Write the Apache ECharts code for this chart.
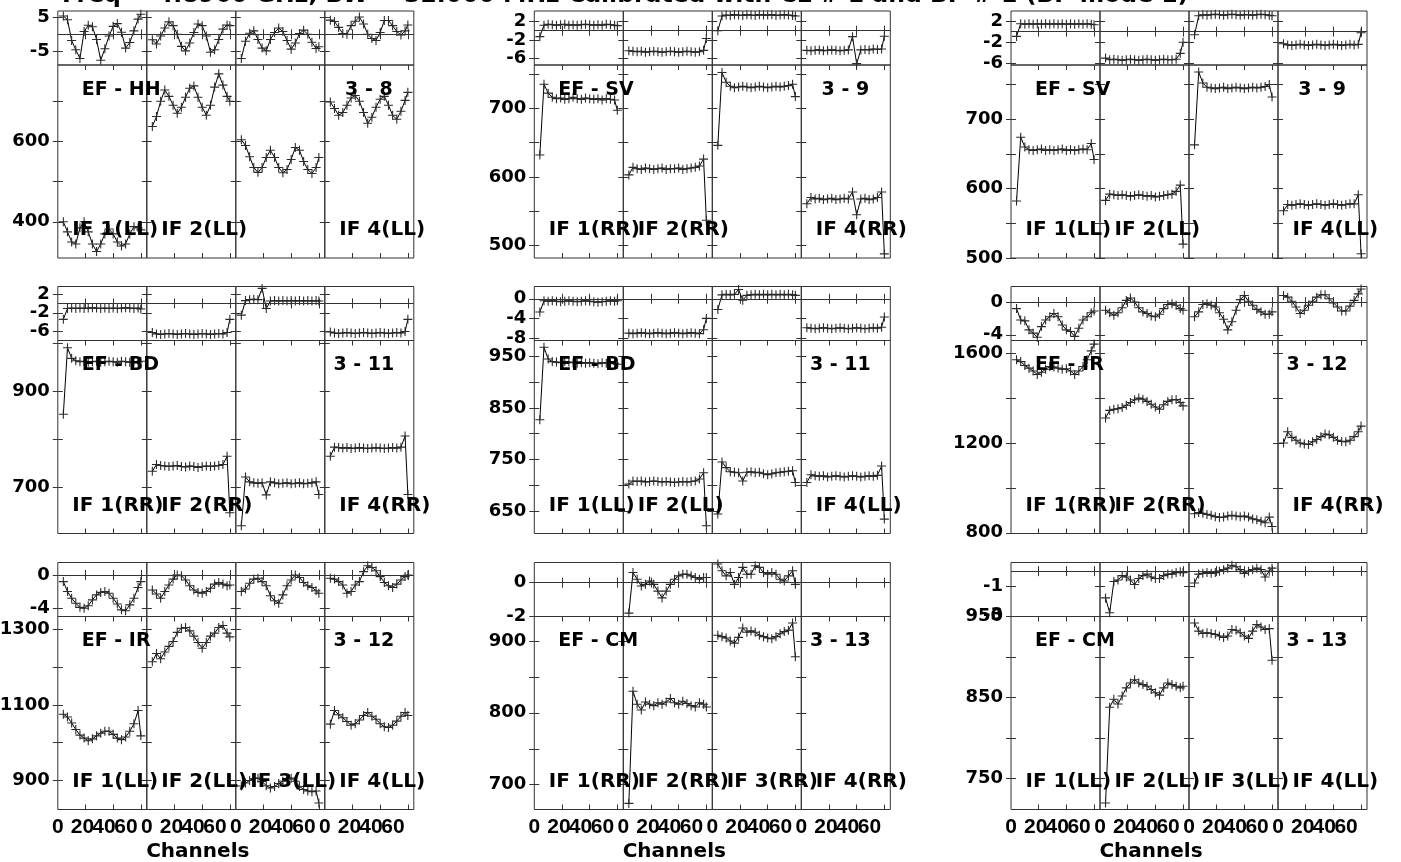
<!DOCTYPE html>
<html><head><meta charset="utf-8">
<script src="https://cdn.jsdelivr.net/npm/echarts@6/dist/echarts.min.js"></script>
<style>html,body{margin:0;padding:0;background:#fff}#c{width:1401px;height:862px}</style>
</head><body><div id="c"></div>
<script>
// ---------- data ----------
const channels = [4,7,10,13,16,19,22,25,28,31,34,37,40,43,46,49,52,55,58,60];

// Panel 1: EF - HH (LL)
const ph1_1 = [5.3,4.2,-1.8,-4.5,-7,0.8,2.6,2.2,-1.5,-7.5,-4.2,-0.5,2.3,3.1,0.6,-4,-2.4,1.0,4.4,5.8];
const amp1_1 = [400,375,350,345,385,400,375,345,326,345,370,382,370,350,340,345,370,388,385,380];
const ph1_2 = [-1.6,-2.8,-0.5,1.8,3.6,2.5,0,-3.5,-4.8,-2.5,0.5,3.0,2.5,-0.5,-5.2,-4.5,-1.5,1.5,2.7,2.5];
const amp1_2 = [637,662,700,728,712,690,670,685,710,732,738,710,685,665,690,735,768,740,712,700];
const ph1_3 = [-7,-2,0.3,1.0,-1.5,-4,-4.8,-1.5,0.5,1.8,0.8,-1.8,-4.3,-2.5,0.2,1.2,0,-2.3,-4.1,-3.6];
const amp1_3 = [604,590,562,535,523,535,560,578,560,535,522,530,555,585,578,550,530,520,535,560];
const ph1_4 = [4.1,3.7,2.0,0.2,0,2.5,3.8,5.0,3.0,0,-1.2,-1.8,0.5,4.0,4.0,2.5,0.8,-0.2,1.0,2.7];
const amp1_4 = [698,682,665,672,690,708,714,700,672,645,660,685,705,712,690,665,655,675,702,722];

// Panel 2: EF - SV (RR)
const ph2_1 = [-1.3,1.2,1.4,1.3,1.2,1.3,1.4,1.2,1.3,1.2,1.3,1.4,1.3,1.2,1.3,1.2,1.4,1.3,1.2,1.1];
const amp2_1 = [632,735,722,716,714,715,713,714,716,714,713,715,714,713,714,712,714,713,712,697];
const ph2_2 = [-4.4,-4.5,-4.6,-4.5,-4.7,-4.6,-4.5,-4.6,-4.7,-4.6,-4.5,-4.6,-4.7,-4.6,-4.5,-4.6,-4.7,-4.6,-4.3,-1.7];
const amp2_2 = [603,614,612,611,613,612,611,612,613,611,612,612,613,611,612,613,614,616,626,537];
const ph2_3 = [0,3.2,3.4,3.3,3.5,3.4,3.3,3.5,3.4,3.3,3.5,3.4,3.4,3.5,3.3,3.4,3.5,3.4,3.3,3.2];
const amp2_3 = [646,752,738,732,730,731,732,731,730,731,732,731,730,731,732,731,732,733,735,717];
const ph2_4 = [-4.3,-4.4,-4.3,-4.2,-4.4,-4.3,-4.2,-4.3,-4.4,-4.3,-4.2,-1.3,-7.2,-4.2,-4.1,-4.2,-4.0,-4.1,-4.0,-1.2];
const amp2_4 = [561,570,568,569,567,568,569,567,568,569,568,578,545,568,569,567,568,570,578,488];

// Panel 3: EF - SV (LL)
const ph3_1 = [-0.9,1.5,1.4,1.5,1.4,1.5,1.4,1.5,1.4,1.5,1.4,1.5,1.4,1.5,1.4,1.5,1.4,1.5,1.4,1.3];
const amp3_1 = [582,674,660,656,655,656,657,655,656,655,656,657,655,656,655,656,657,656,665,642];
const ph3_2 = [-5.0,-5.3,-5.2,-5.3,-5.4,-5.3,-5.2,-5.3,-5.4,-5.3,-5.2,-5.3,-5.4,-5.3,-5.2,-5.3,-5.3,-5.2,-4.1,-2.0];
const amp3_2 = [583,592,591,590,591,590,589,590,591,590,589,590,588,589,590,591,592,596,605,520];
const ph3_3 = [-0.6,3.0,3.2,3.1,3.2,3.3,3.2,3.1,3.2,3.3,3.2,3.1,3.2,3.2,3.1,3.2,3.3,3.2,3.1,3.0];
const amp3_3 = [663,768,752,746,745,744,745,746,744,745,746,745,744,745,746,745,746,747,750,732];
const ph3_4 = [-2.3,-2.5,-2.6,-2.5,-2.4,-2.5,-2.6,-2.5,-2.4,-2.5,-2.6,-2.5,-2.4,-2.5,-2.6,-2.5,-2.4,-2.5,-2.4,-0.2];
const amp3_4 = [568,577,576,577,578,577,576,577,578,577,576,577,578,577,576,577,578,578,591,506];

// Panel 4: EF - BD (RR)
const ph4_1 = [-3.4,-1.1,-1.0,-1.1,-1.0,-1.1,-1.0,-0.9,-1.0,-1.1,-1.0,-1.1,-1.0,-1.1,-1.0,-0.9,-1.0,-1.1,-1.0,-1.2];
const amp4_1 = [852,990,968,963,961,962,960,961,962,960,961,962,961,960,962,961,960,961,960,962];
const ph4_2 = [-6.2,-6.5,-6.6,-6.5,-6.4,-6.5,-6.6,-6.5,-6.4,-6.5,-6.6,-6.5,-6.4,-6.5,-6.6,-6.5,-6.4,-6.5,-6.2,-3.4];
const amp4_2 = [734,748,746,745,744,745,746,744,743,745,744,742,744,745,744,745,746,748,765,648];
const ph4_3 = [-2.5,0.6,0.8,0.9,0.8,3.2,-1.1,0.5,0.6,0.5,0.6,0.5,0.6,0.5,0.6,0.5,0.6,0.5,0.6,0.5];
const amp4_3 = [621,722,712,710,709,710,685,712,710,708,709,710,708,709,710,708,709,710,712,686];
const ph4_4 = [-6.1,-6.3,-6.4,-6.3,-6.2,-6.3,-6.4,-6.3,-6.2,-6.3,-6.4,-6.3,-6.2,-6.3,-6.4,-6.3,-6.2,-6.3,-6.0,-3.4];
const amp4_4 = [765,784,783,782,783,781,782,783,782,781,782,783,782,781,782,783,782,784,807,686];

// Panel 5: EF - BD (LL)
const ph5_1 = [-2.7,-0.4,-0.5,-0.4,-0.5,-0.6,-0.5,-0.4,-0.5,-0.6,-0.5,-0.4,-0.5,-0.6,-0.7,-0.6,-0.5,-0.4,-0.5,-0.4];
const amp5_1 = [827,968,945,940,939,938,940,939,938,937,938,937,938,937,936,938,937,936,937,935];
const ph5_2 = [-7.0,-7.1,-7.0,-6.9,-7.0,-7.1,-7.0,-6.9,-7.0,-7.1,-7.0,-6.9,-7.0,-7.1,-7.0,-6.9,-7.0,-7.1,-6.3,-4.0];
const amp5_2 = [702,708,707,708,706,707,708,707,706,707,706,705,706,707,706,707,708,712,724,621];
const ph5_3 = [-2.2,0.8,0.9,0.8,0.9,1.9,-0.3,0.7,0.8,0.9,0.8,0.9,0.8,0.9,0.8,0.9,0.8,0.9,0.8,0.7];
const amp5_3 = [644,745,734,726,725,724,708,725,726,724,725,722,720,722,724,725,726,727,728,705];
const ph5_4 = [-5.9,-6.0,-6.1,-6.0,-5.9,-6.0,-6.1,-6.0,-5.9,-6.0,-6.1,-6.0,-5.9,-6.0,-6.1,-6.0,-5.9,-6.0,-5.8,-3.7];
const amp5_4 = [705,720,718,717,718,716,717,718,717,716,717,718,717,716,717,718,717,719,737,634];

// Panel 6: EF - IR (RR)
const ph6_1 = [-0.8,-2.2,-2.3,-3.4,-3.8,-4.3,-3,-2.2,-1.8,-1.4,-1.8,-2.8,-3.4,-3.6,-4.2,-3.2,-2.2,-1.8,-1.3,-1.1];
const amp6_1 = [1570,1562,1545,1533,1520,1505,1515,1528,1540,1538,1533,1528,1530,1520,1505,1520,1540,1570,1610,1640];
const ph6_2 = [-1,-1.3,-1.6,-1.3,-0.7,0.2,0.5,0,-0.7,-1.2,-1.4,-1.7,-1.8,-1.5,-0.8,-0.3,-0.2,-0.4,-0.8,-1];
const amp6_2 = [1311,1345,1350,1352,1358,1368,1380,1392,1400,1395,1385,1372,1360,1350,1370,1385,1392,1393,1380,1365];
const ph6_3 = [-1.8,-1.2,-0.3,-0.2,-0.4,-0.6,-1.3,-2.1,-3.4,-2.4,-1.0,0.3,0.8,0.1,-0.4,-0.9,-1.2,-1.5,-1.5,-1.2];
const amp6_3 = [885,890,887,882,878,872,868,870,875,878,875,872,875,870,862,858,852,845,870,828];
const ph6_4 = [0.8,0.6,0.1,-0.6,-1.4,-1.0,-0.4,0.1,0.6,0.9,0.9,0.4,-0.1,-0.6,-1.1,-1.1,-0.5,0.2,1.0,1.6];
const amp6_4 = [1200,1250,1225,1212,1200,1195,1193,1205,1215,1228,1240,1236,1225,1212,1207,1205,1212,1228,1250,1275];

// Panel 7: EF - IR (LL)
const ph7_1 = [-0.8,-2,-2.8,-3.4,-3.9,-4,-3.7,-3,-2.4,-2.1,-2,-2.2,-2.8,-3.5,-4.2,-4.3,-3.6,-2.8,-1.5,-0.8];
const amp7_1 = [1075,1068,1052,1035,1020,1012,1005,1010,1018,1025,1030,1030,1022,1012,1008,1015,1030,1050,1085,1018];
const ph7_2 = [-1.8,-2.3,-2.8,-2.0,-1.2,-0.5,0,-0.1,-0.6,-1.3,-1.8,-2.1,-2.2,-2.0,-1.6,-1.1,-0.9,-1.1,-1.3,-1.2];
const amp7_2 = [1214,1236,1222,1240,1255,1268,1292,1303,1305,1296,1282,1265,1250,1265,1282,1290,1305,1310,1290,1280];
const ph7_3 = [-2,-1.7,-1.0,-0.5,-0.4,-0.8,-1.3,-2.5,-3.1,-3.4,-2.4,-1.3,-0.6,0,-0.3,-0.9,-1.3,-1.5,-1.9,-2.2];
const amp7_3 = [885,893,900,905,906,897,886,880,884,892,898,903,906,898,884,876,872,870,872,840];
const ph7_4 = [-0.4,-0.5,-0.8,-1.2,-2.2,-2.0,-1.2,-0.8,0.4,1.1,0.9,0.5,-0.2,-0.9,-1.3,-1.5,-1.1,-0.6,-0.2,0];
const amp7_4 = [1049,1085,1074,1066,1056,1046,1050,1060,1072,1080,1070,1062,1050,1042,1040,1046,1057,1070,1080,1072];

// Panel 8: EF - CM (RR)
const ph8_1 = [];
const amp8_1 = [];
const ph8_2 = [-1.8,0.6,0.2,-0.2,-0.1,0.1,-0.1,-0.5,-0.9,-0.5,-0.1,0.2,0.4,0.5,0.5,0.4,0.3,0.2,0.3,0.3];
const amp8_2 = [674,830,812,804,815,812,810,814,812,815,820,814,812,816,813,810,808,814,812,808];
const ph8_3 = [1.1,0.7,0.4,0.6,-0.1,0.3,0.9,0.5,0.5,1.0,0.9,0.6,0.5,0.6,0.5,0.2,0.1,0.4,0.7,-0.1];
const amp8_3 = [908,906,904,900,897,905,918,912,914,912,908,906,904,903,906,910,913,915,925,878];
const ph8_4 = [];
const amp8_4 = [];

// Panel 9: EF - CM (LL)
const ph9_1 = [];
const amp9_1 = [];
const ph9_2 = [-1.8,-2.8,-0.7,-0.6,-0.3,-0.4,-0.6,-0.9,-0.5,-0.3,-0.2,-0.4,-0.5,-0.5,-0.3,-0.2,-0.2,-0.1,-0.05,-0.1];
const amp9_2 = [720,838,848,842,852,862,868,872,868,866,864,860,856,853,862,868,866,864,862,864];
const ph9_3 = [-0.8,-0.2,-0.15,-0.1,-0.15,-0.1,0,0.1,0.2,0.4,0.3,0.1,-0.15,0,0.1,0.2,0.1,-0.4,0,0.2];
const amp9_3 = [942,932,929,930,929,928,926,924,926,934,933,930,926,923,932,940,937,934,935,896];
const ph9_4 = [];
const amp9_4 = [];

// texts and ticks
const title = 'Freq = 4.8960 GHz, BW = 32.000 MHz Calibrated with CL # 1 and BP # 1 (BP mode 1)';
const xTitle = 'Channels';
const baselines = ['EF - HH','EF - SV','EF - SV','EF - BD','EF - BD','EF - IR','EF - IR','EF - CM','EF - CM'];
const antPairs = ['3 - 8','3 - 9','3 - 9','3 - 11','3 - 11','3 - 12','3 - 12','3 - 13','3 - 13'];
const pols = ['LL','RR','LL','RR','LL','RR','LL','RR','LL'];
const ifLabelShown = [[1,1,0,1],[1,1,0,1],[1,1,0,1],[1,1,0,1],[1,1,0,1],[1,1,0,1],[1,1,1,1],[1,1,1,1],[1,1,1,1]];
const phaseTicks = [[-5,5],[-6,-2,2],[-6,-2,2],[-6,-2,2],[-8,-4,0],[-4,0],[-4,0],[-2,0],[-3,-1]];
const ampTicks = [[400,500,600,700],[500,550,600,650,700,750],[500,550,600,650,700,750],[700,800,900,1000],[650,700,750,800,850,900,950],[800,1000,1200,1400,1600],[900,1000,1100,1200,1300],[700,750,800,850,900],[750,800,850,900,950]];
const ampLabels = [[400,600],[500,600,700],[500,600,700],[700,900],[650,750,850,950],[800,1200,1600],[900,1100,1300],[700,800,900],[750,850,950]];
const channelTicks = [20,40,60];
const channelLabels = ['0','20','40','60'];

// ---------- layout (not data) ----------
const phaseRange = [[-8.9,6.75],[-7.5,4.3],[-6.3,3.9],[-7.9,3.6],[-8.5,2.5],[-4.7,1.9],[-5.0,1.5],[-2.0,1.19],[-3.05,0.58]];
const ampRange = [[310,790],[482,763],[500,778],[605,1005],[606,981],[797,1656],[823,1334],[665.5,934],[712,950]];
const colLeft = [57.8, 534.3, 1011];
const rowTop = [11, 286.5, 562.5];
const SUBW = 89, PH_H = 54, AMP_H = 193;
const XMAX = 64.3;
// where the (tightly packed) channel labels sit in the reference, in channel units
const channelLabelPos = [0, 17.8, 33.4, 49.2];

const phaseData = [[ph1_1,ph1_2,ph1_3,ph1_4],[ph2_1,ph2_2,ph2_3,ph2_4],[ph3_1,ph3_2,ph3_3,ph3_4],[ph4_1,ph4_2,ph4_3,ph4_4],[ph5_1,ph5_2,ph5_3,ph5_4],[ph6_1,ph6_2,ph6_3,ph6_4],[ph7_1,ph7_2,ph7_3,ph7_4],[ph8_1,ph8_2,ph8_3,ph8_4],[ph9_1,ph9_2,ph9_3,ph9_4]];
const ampData = [[amp1_1,amp1_2,amp1_3,amp1_4],[amp2_1,amp2_2,amp2_3,amp2_4],[amp3_1,amp3_2,amp3_3,amp3_4],[amp4_1,amp4_2,amp4_3,amp4_4],[amp5_1,amp5_2,amp5_3,amp5_4],[amp6_1,amp6_2,amp6_3,amp6_4],[amp7_1,amp7_2,amp7_3,amp7_4],[amp8_1,amp8_2,amp8_3,amp8_4],[amp9_1,amp9_2,amp9_3,amp9_4]];

const FRAME = '#333';
const PLUS = 'path://M0,4.4H10V5.6H0Z M4.4,0H5.6V10H4.4Z';
const grids = [], xAxes = [], yAxes = [], series = [], graphics = [];

function addPlot(left, top, height, yr, yTicks, yLabels, showY, showX, values, zero) {
  const g = grids.length;
  grids.push({left: left, top: top, width: SUBW, height: height, show: true,
    borderColor: FRAME, borderWidth: 1, backgroundColor: 'transparent',
    containLabel: false, outerBoundsMode: 'none'});
  const tickStyle = {show: true, inside: true, length: 5, lineStyle: {color: FRAME, width: 1}};
  const xi = xAxes.length;
  xAxes.push({gridIndex: g, type: 'value', min: 0, max: XMAX, position: 'bottom',
    axisLine: {show: false}, splitLine: {show: false},
    axisTick: Object.assign({customValues: channelTicks}, tickStyle), axisLabel: {show: false}});
  xAxes.push({gridIndex: g, type: 'value', min: 0, max: XMAX, position: 'top',
    axisLine: {show: false}, splitLine: {show: false}, axisLabel: {show: false},
    axisTick: Object.assign({customValues: channelTicks}, tickStyle)});
  if (showX) {
    channelLabels.forEach((txt, k) => {
      xAxes.push({gridIndex: g, type: 'value', min: 0, max: XMAX, position: 'bottom', offset: 0,
        axisLine: {show: false}, splitLine: {show: false}, axisTick: {show: false},
        axisLabel: {show: true, customValues: [channelLabelPos[k]], margin: 7, color: '#000',
          showMinLabel: true, showMaxLabel: true, hideOverlap: false,
          formatter: () => txt,
          fontFamily: 'Liberation Sans', fontWeight: 'bold', fontSize: 21}});
    });
  }
  const yi = yAxes.length;
  yAxes.push({gridIndex: g, type: 'value', min: yr[0], max: yr[1], position: 'left',
    axisLine: {show: false}, splitLine: {show: false},
    axisTick: Object.assign({customValues: yTicks}, tickStyle),
    axisLabel: {show: showY, customValues: yLabels, margin: 8, color: '#000',
      showMinLabel: true, showMaxLabel: true, hideOverlap: false,
      formatter: v => String(v),
      fontFamily: 'DejaVu Sans', fontWeight: 'bold', fontSize: 18}});
  yAxes.push({gridIndex: g, type: 'value', min: yr[0], max: yr[1], position: 'right',
    axisLine: {show: false}, splitLine: {show: false}, axisLabel: {show: false},
    axisTick: Object.assign({customValues: yTicks}, tickStyle)});
  const s = {type: 'line', xAxisIndex: xi, yAxisIndex: yi,
    data: values.map((v, k) => [channels[k], v]),
    symbol: PLUS, symbolSize: 9, showSymbol: true,
    itemStyle: {color: '#2a2a2a'}, lineStyle: {color: '#000', width: 1},
    animation: false, silent: true};
  if (zero) {
    s.markLine = {silent: true, symbol: 'none', animation: false, label: {show: false},
      lineStyle: {color: FRAME, width: 1, type: 'solid'}, data: [{yAxis: 0}]};
  }
  series.push(s);
}

for (let p = 0; p < 9; p++) {
  const col = p % 3, row = Math.floor(p / 3);
  const L = colLeft[col], T = rowTop[row], AT = T + PH_H;
  for (let i = 0; i < 4; i++) {
    const left = L + i * SUBW;
    addPlot(left, T, PH_H, phaseRange[p], phaseTicks[p], phaseTicks[p], i === 0, false, phaseData[p][i], true);
    addPlot(left, AT, AMP_H, ampRange[p], ampTicks[p], ampLabels[p], i === 0, row === 2, ampData[p][i], false);
    if (ifLabelShown[p][i]) {
      graphics.push({type: 'text', z: 100, x: left + 14.5, y: AT + 165,
        style: {text: 'IF ' + (i + 1) + '(' + pols[p] + ')', font: 'bold 20px "DejaVu Sans"', fill: '#000',
          textAlign: 'left', textVerticalAlign: 'middle', verticalAlign: 'middle'}});
    }
  }
  graphics.push({type: 'text', z: 100, x: L + 24, y: AT + 25,
    style: {text: baselines[p], font: 'bold 19px "DejaVu Sans"', fill: '#000',
      textAlign: 'left', textVerticalAlign: 'middle', verticalAlign: 'middle'}});
  graphics.push({type: 'text', z: 100, x: L + 3 * SUBW + (antPairs[p].length > 5 ? 8.6 : 20.3), y: AT + 25,
    style: {text: antPairs[p], font: 'bold 19px "DejaVu Sans"', fill: '#000',
      textAlign: 'left', textVerticalAlign: 'middle', verticalAlign: 'middle'}});
  if (row === 2) {
    graphics.push({type: 'text', z: 100, x: L + 140, y: 851.5,
      style: {text: xTitle, font: 'bold 20px "DejaVu Sans"', fill: '#000',
        textAlign: 'center', textVerticalAlign: 'middle', verticalAlign: 'middle'}});
  }
}
graphics.push({type: 'text', z: 100, x: 62, y: -4,
  style: {text: title, font: 'bold 23.5px "DejaVu Sans"', fill: '#000',
    textAlign: 'left', textVerticalAlign: 'middle', verticalAlign: 'middle'}});

const chart = echarts.init(document.getElementById('c'), null, {renderer: 'canvas'});
chart.setOption({animation: false, backgroundColor: '#fff', grid: grids, xAxis: xAxes, yAxis: yAxes,
  series: series, graphic: {elements: graphics}});
</script></body></html>
